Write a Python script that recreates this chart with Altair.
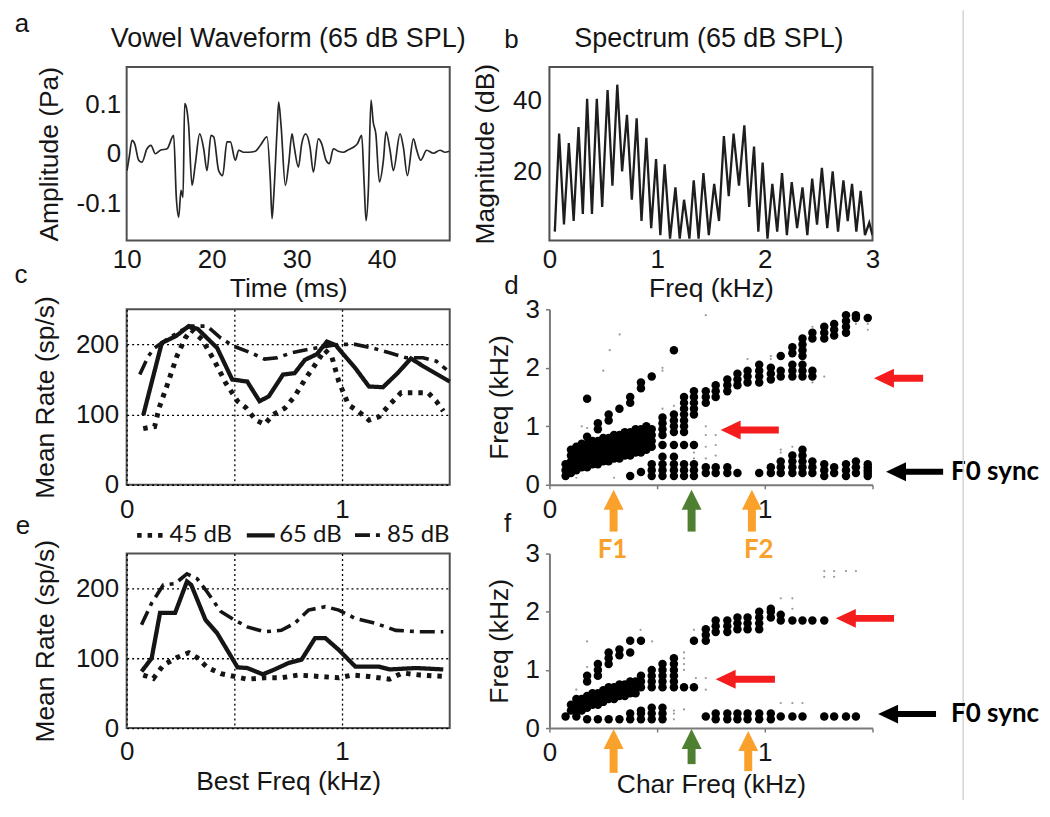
import altair as alt
import pandas as pd

FONT = "Liberation Sans"
AFONT = "Lato"
TXT = "#151515"
FRAME = "#505050"
AXGREY = "#7a7a7a"
ORANGE = "#F9A12B"
GREEN = "#4F7F30"
RED = "#F41C1C"

W = 324

# ---------------- panel a: vowel waveform ----------------
wave_t = [10.04, 10.3, 10.63, 10.95, 11.41, 11.8, 12.39, 12.86, 13.37, 13.96, 14.75, 15.53,
          15.84, 16.12, 16.39, 16.63, 16.82, 17.02, 17.29, 17.69, 18.08, 18.59, 19.06, 19.45,
          19.92, 20.24, 20.82, 21.29, 21.8, 22.2, 22.78, 23.18, 23.76, 24.35, 25.14, 25.73,
          26.51, 26.9, 27.1, 27.29, 27.69, 27.88, 28.16, 28.67, 29.06, 29.45, 29.68, 30.2,
          30.59, 31.06, 31.57, 31.96, 32.55, 32.94, 33.45, 33.84, 34.31, 34.9, 35.49, 36.08,
          36.67, 37.14, 37.65, 37.92, 38.16, 38.43, 38.74, 39.0, 39.31, 39.73, 40.2, 40.51,
          40.98, 41.37, 42.16, 42.55, 43.02, 43.73, 44.12, 44.59, 45.29, 46.08, 46.86, 47.45,
          47.96]
wave_amp = [-0.034, -0.007, 0.027, 0.02, -0.013, -0.017, 0.01, 0.017, 0.0, 0.007, 0.01, 0.037,
            -0.088, -0.128, -0.074, -0.088, 0.101, 0.094, 0.057, -0.064, -0.02, 0.04, 0.01, -0.034,
            0.037, 0.034, -0.034, -0.044, 0.024, 0.024, -0.013, 0.007, 0.003, 0.003, 0.005, 0.017,
            0.034, -0.054, -0.131, -0.088, 0.047, 0.104, 0.057, -0.064, -0.02, 0.04, 0.017, -0.027,
            0.02, 0.04, 0.013, -0.037, 0.03, 0.02, -0.013, -0.02, 0.01, 0.005, 0.003, 0.008,
            0.013, 0.02, 0.037, -0.054, -0.135, -0.074, 0.108, 0.064, 0.04, -0.057, -0.013, 0.044,
            0.007, -0.034, 0.04, 0.013, -0.044, 0.03, 0.007, -0.013, 0.007, 0.001, 0.007, 0.003,
            0.005]

# ---------------- panel b: spectrum ----------------
spec_f = [0.05, 0.09, 0.135, 0.18, 0.225, 0.27, 0.31, 0.35, 0.395, 0.44, 0.49, 0.54, 0.585,
          0.63, 0.675, 0.72, 0.765, 0.81, 0.855, 0.90, 0.945, 0.99, 1.03, 1.07, 1.12, 1.17,
          1.21, 1.25, 1.30, 1.34, 1.385, 1.43, 1.48, 1.53, 1.575, 1.62, 1.665, 1.71, 1.76,
          1.81, 1.855, 1.90, 1.94, 1.98, 2.025, 2.07, 2.115, 2.16, 2.205, 2.25, 2.30, 2.35,
          2.395, 2.44, 2.485, 2.53, 2.58, 2.63, 2.68, 2.73, 2.77, 2.81, 2.85, 2.89, 2.93,
          2.97, 3.0]
spec_db = [3, 30.7, 5, 28, 6, 32.5, 8, 40.5, 8, 40.5, 10, 43, 16,
           44.5, 20, 36, 12, 35, 6, 29.5, 4, 23.5, 2, 22, 1, 15.5,
           1, 12, 1, 17.5, 1, 19.5, 2, 16.5, 6, 30, 13, 30.7, 16,
           33, 10, 27, 3, 22.5, 1, 16.5, 3, 19.5, 2, 17, 4, 15.5,
           2, 18, 5, 21, 4, 20, 3, 17.5, 6, 16.5, 3, 14.5, 2,
           5.5, 2]

# ---------------- panels c / e: mean rate ----------------
LEVELS = ["45 dB", "65 dB", "85 dB"]
c45_bf = [0.077, 0.13, 0.15, 0.186, 0.233, 0.272, 0.30, 0.35, 0.405, 0.46, 0.515, 0.553, 0.60, 0.64,
          0.68, 0.734, 0.78, 0.828, 0.875, 0.92, 0.953, 0.985, 1.03, 1.078, 1.125, 1.172, 1.22,
          1.274, 1.345, 1.40, 1.438, 1.47]
c45_rate = [80, 83, 109, 140, 183, 209, 221, 207, 178, 145, 119, 110, 92, 86, 100, 109, 126, 150,
            171, 192, 182, 147, 114, 104, 92, 97, 114, 131, 131, 131, 119, 105]
c65_bf = [0.077, 0.163, 0.23, 0.288, 0.33, 0.42, 0.49, 0.56, 0.617, 0.66, 0.726, 0.78, 0.828,
          0.883, 0.93, 0.97, 1.062, 1.125, 1.19, 1.258, 1.32, 1.376, 1.5]
c65_rate = [99, 202, 212, 226, 222, 195, 150, 147, 119, 126, 157, 159, 178, 186, 204, 199, 166,
            140, 139, 159, 180, 169, 147]
c85_bf = [0.061, 0.1, 0.13, 0.186, 0.249, 0.296, 0.374, 0.437, 0.5, 0.577, 0.64, 0.70, 0.766,
          0.844, 0.922, 0.985, 1.062, 1.14, 1.22, 1.297, 1.376, 1.438, 1.485]
c85_rate = [157, 183, 195, 207, 219, 226, 226, 209, 197, 188, 179, 181, 188, 193, 197, 200, 200,
            195, 188, 181, 181, 176, 164]

e45_bf = [0.077, 0.124, 0.17, 0.233, 0.288, 0.327, 0.374, 0.437, 0.5, 0.56, 0.64, 0.718, 0.797,
          0.89, 0.985, 1.047, 1.125, 1.22, 1.28, 1.36, 1.47]
e45_rate = [76, 71, 90, 101, 108, 101, 87, 78, 74, 70, 72, 72, 76, 74, 72, 76, 74, 70, 79, 76, 74]
e65_bf = [0.069, 0.116, 0.155, 0.225, 0.28, 0.30, 0.366, 0.42, 0.515, 0.56, 0.632, 0.687, 0.75,
          0.812, 0.875, 0.922, 0.985, 1.062, 1.172, 1.22, 1.345, 1.47]
e65_rate = [81, 100, 165, 165, 210, 205, 155, 136, 87, 86, 77, 84, 93, 98, 129, 129, 112, 88, 88,
            84, 86, 84]
e85_bf = [0.069, 0.116, 0.17, 0.225, 0.28, 0.327, 0.374, 0.437, 0.5, 0.56, 0.64, 0.718, 0.78,
          0.844, 0.922, 0.985, 1.062, 1.156, 1.25, 1.36, 1.47]
e85_rate = [148, 179, 205, 207, 221, 214, 195, 167, 155, 145, 138, 140, 150, 169, 174, 169, 157,
            150, 140, 138, 138]

# ---------------- panels d / f: synchronized frequency vs CF ----------------
D_BIG = [
    (0.075, [0.15, 0.25, 0.35]),
    (0.100, [0.2, 0.3, 0.4, 0.5, 0.6]),
    (0.125, [0.25, 0.35, 0.45, 0.55, 0.65]),
    (0.150, [0.3, 0.4, 0.5, 0.6, 0.7]),
    (0.175, [0.3, 0.4, 0.5, 0.6, 0.7, 0.82, 1.47]),
    (0.200, [0.35, 0.45, 0.55, 0.65, 0.75]),
    (0.225, [0.35, 0.45, 0.55, 0.65, 0.75, 0.95, 1.05]),
    (0.250, [0.4, 0.5, 0.6, 0.7, 0.8]),
    (0.275, [0.4, 0.5, 0.6, 0.7, 0.8, 1.1, 1.2]),
    (0.300, [0.45, 0.55, 0.65, 0.75, 0.85]),
    (0.325, [0.45, 0.55, 0.65, 0.75, 0.85, 1.3]),
    (0.350, [0.5, 0.6, 0.7, 0.8, 0.9]),
    (0.375, [0.5, 0.6, 0.7, 0.8, 0.9, 1.4, 1.5, 0.15]),
    (0.400, [0.55, 0.65, 0.75, 0.85, 0.95]),
    (0.425, [0.55, 0.65, 0.75, 0.85, 0.95, 1.65, 1.75, 0.22]),
    (0.450, [0.6, 0.7, 0.8, 0.9, 1.0]),
    (0.475, [0.65, 0.75, 0.85, 0.95, 1.85, 0.15, 0.25, 0.35]),
    (0.525, [0.85, 0.95, 1.05, 1.15, 0.68, 0.48, 0.15, 0.25, 0.35]),
    (0.578, [0.9, 1.0, 1.1, 1.2, 0.68, 0.48, 0.15, 0.25, 0.35, 2.3]),
    (0.625, [0.9, 1.0, 1.1, 1.2, 1.3, 1.4, 1.5, 0.68, 0.15, 0.25, 0.35]),
    (0.671, [1.2, 1.3, 1.4, 1.5, 1.6, 0.68, 0.15, 0.25, 0.35]),
    (0.726, [1.4, 1.5, 1.6, 0.2, 0.3]),
    (0.772, [1.5, 1.6, 1.7, 0.2, 0.3]),
    (0.826, [1.6, 1.7, 1.8, 0.2, 0.3]),
    (0.873, [1.7, 1.8, 1.9, 0.2]),
    (0.920, [1.75, 1.85, 1.95]),
    (0.974, [1.75, 1.85, 1.95, 2.05, 0.2]),
    (1.028, [1.8, 1.9, 2.0, 0.2, 0.3]),
    (1.074, [1.85, 1.95, 2.2, 0.2, 0.3, 0.4]),
    (1.128, [1.85, 1.95, 2.05, 2.25, 2.35, 0.2, 0.3, 0.4, 0.5]),
    (1.175, [1.85, 1.95, 2.05, 2.2, 2.3, 2.4, 2.5, 0.2, 0.3, 0.4, 0.5, 0.6]),
    (1.221, [1.85, 1.95, 2.5, 2.6, 0.2, 0.3, 0.4]),
    (1.276, [2.5, 2.6, 2.7, 0.15, 0.25, 0.35]),
    (1.322, [2.55, 2.65, 2.75, 0.2, 0.3]),
    (1.377, [2.6, 2.7, 2.8, 2.9, 0.15, 0.25, 0.35]),
    (1.423, [2.85, 2.9, 0.2, 0.3, 0.4]),
    (1.478, [2.85, 0.15, 0.2, 0.25, 0.3, 0.35]),
]
D_SMALL = [
    (0.150, [1.0]), (0.175, [0.97]), (0.250, [1.95]), (0.280, [2.3]), (0.326, [2.57]),
    (0.125, [0.12]), (0.300, [0.12]), (0.525, [2.0, 1.95, 1.3]), (0.578, [1.35]),
    (0.671, [0.55, 0.45]), (0.726, [2.9, 1.0, 0.85, 0.65, 0.45]), (0.772, [0.85, 0.68, 0.5]),
    (0.920, [2.15]), (1.028, [2.15, 2.2]), (1.074, [0.55, 0.6]), (1.128, [0.65]),
    (1.221, [1.75, 2.7]), (1.276, [1.85]), (1.423, [2.75]), (1.478, [2.75, 2.65]),
]

F_BIG = [
    (0.075, [0.2]),
    (0.100, [0.3, 0.4]),
    (0.125, [0.2, 0.3, 0.4, 0.5]),
    (0.150, [0.3, 0.4, 0.5]),
    (0.175, [0.35, 0.45, 0.55, 0.8, 0.9, 0.15]),
    (0.200, [0.4, 0.5, 0.6]),
    (0.225, [0.4, 0.5, 0.6, 0.9, 1.0, 1.1, 0.15]),
    (0.250, [0.45, 0.55, 0.65]),
    (0.275, [0.5, 0.6, 0.7, 1.1, 1.2, 1.3, 0.15]),
    (0.300, [0.5, 0.6, 0.7]),
    (0.325, [0.55, 0.65, 0.75, 1.25, 1.35, 0.15]),
    (0.350, [0.55, 0.65, 0.75]),
    (0.375, [0.6, 0.7, 0.8, 1.5, 1.3, 0.15, 0.25]),
    (0.400, [0.6, 0.7, 0.8]),
    (0.425, [0.7, 0.8, 0.9, 1.5, 0.15, 0.25, 0.3]),
    (0.475, [0.7, 0.8, 0.9, 1.0, 0.15, 0.25, 0.35]),
    (0.525, [0.7, 0.8, 0.9, 1.0, 1.1, 0.15, 0.25, 0.35]),
    (0.578, [0.7, 0.8, 0.9, 1.0, 1.1, 1.2]),
    (0.625, [0.7]),
    (0.671, [0.7, 1.5]),
    (0.726, [1.5, 1.6, 1.7, 0.2]),
    (0.772, [1.65, 1.75, 1.85, 0.15, 0.25]),
    (0.826, [1.65, 1.75, 1.85, 0.15, 0.25]),
    (0.873, [1.7, 1.8, 1.9, 0.15, 0.25]),
    (0.920, [1.7, 1.8, 1.9, 0.15, 0.25]),
    (0.974, [1.7, 1.8, 1.9, 2.0, 0.15, 0.25]),
    (1.028, [1.9, 2.0, 2.05, 0.15, 0.25]),
    (1.074, [1.85, 1.95, 0.2]),
    (1.128, [1.85, 0.2]),
    (1.175, [1.85, 0.2]),
    (1.221, [1.85]),
    (1.276, [1.85, 0.2]),
    (1.322, [0.2]),
    (1.377, [0.2]),
    (1.423, [0.2]),
]
F_SMALL = [
    (0.125, [0.66]), (0.175, [1.49, 1.05]), (0.423, [1.69]), (0.477, [1.49]),
    (0.578, [0.15, 0.25, 0.3]), (0.625, [1.0, 1.1, 1.2, 1.3, 0.32]), (0.671, [1.69]),
    (0.68, [0.86]), (0.726, [0.86, 0.66]), (1.074, [2.23, 0.43]), (1.128, [2.23, 2.05, 0.43]),
    (1.175, [0.43]), (1.276, [2.6, 2.7]), (1.322, [2.6, 2.7]), (1.377, [2.7]), (1.423, [2.7]),
]

# annotation arrows (data units of panels d / f)
D_H_Y, D_H_TIP, D_H_TAIL = [1.82, 0.937, 0.221], [1.507, 0.795, 1.563], [1.735, 1.065, 1.828]
D_V_X, D_V_TIP, D_V_TAIL = [0.298, 0.66, 0.94], [-0.085, -0.085, -0.085], [-0.80, -0.80, -0.80]
F_H_Y, F_H_TIP, F_H_TAIL = [1.886, 0.84, 0.24], [1.33, 0.772, 1.526], [1.6, 1.047, 1.795]
F_V_X, F_V_TIP, F_V_TAIL = [0.298, 0.66, 0.923], [-0.017, -0.017, -0.05], [-0.77, -0.62, -0.74]
H_KIND = ["harmonic", "harmonic", "f0"]
V_KIND = ["formant", "valley", "formant"]
FORMANT_LABELS = ["F1", "F2"]
F_LABEL_X = [0.293, 0.972]
F_LABEL_Y = [-1.107, -1.107]
SYNC_LABEL = "F0 sync"
SYNC_X = 1.865
PANEL_LABELS = ["a", "b", "c", "d", "e", "f"]
PANEL_TITLES = ["Vowel Waveform (65 dB SPL)", "Spectrum (65 dB SPL)"]

LEFT_HEAD = "M0,0L2,-0.95L2,0.95Z"
UP_HEAD = "M0,0L-1,2L1,2Z"


def text_layer(s, x, y, size=26, weight="normal", font=FONT, color=TXT, align="center",
               baseline="alphabetic"):
    return alt.Chart(pd.DataFrame({"s": [s]})).mark_text(
        font=font, fontSize=size, fontWeight=weight, color=color, align=align, baseline=baseline
    ).encode(text="s:N", x=alt.value(x), y=alt.value(y))


def framed(ch, h):
    return ch.properties(width=W, height=h, view=alt.ViewBackground(stroke=FRAME, strokeWidth=2))


# ---------------- build panel a ----------------
HA = 174
a_line = alt.Chart(pd.DataFrame({"t": wave_t, "amp": wave_amp})).mark_line(
    color="#262626", strokeWidth=1.7, clip=True, interpolate="monotone"
).encode(
    x=alt.X("t:Q", scale=alt.Scale(domain=[10, 48], nice=False, zero=False),
            axis=alt.Axis(values=[10, 20, 30, 40], title="Time (ms)", labelPadding=6, titleY=35)),
    y=alt.Y("amp:Q", scale=alt.Scale(domain=[-0.175, 0.175], nice=False),
            axis=alt.Axis(values=[-0.1, 0, 0.1], title="Amplitude (Pa)", labelPadding=6,
                          titleX=-63, titleY=HA / 2,
                          labelExpr="datum.value > 0.05 ? '0.1' : (datum.value < -0.05 ? '-0.1' : '0')")),
)
panel_a = framed(alt.layer(a_line, text_layer(PANEL_LABELS[0], -105, -35),
                           text_layer(PANEL_TITLES[0], 162, -20, size=27)), HA)

# ---------------- panel b ----------------
b_line = alt.Chart(pd.DataFrame({"f": spec_f, "db": spec_db})).mark_line(
    color="#1e1e1e", strokeWidth=2.3, clip=True
).encode(
    x=alt.X("f:Q", scale=alt.Scale(domain=[0, 3], nice=False),
            axis=alt.Axis(values=[0, 1, 2, 3], title="Freq (kHz)", labelPadding=6, titleY=35)),
    y=alt.Y("db:Q", scale=alt.Scale(domain=[0.5, 49.5], nice=False, zero=False),
            axis=alt.Axis(values=[20, 40], title="Magnitude (dB)", labelPadding=8,
                          titleX=-50, titleY=HA / 2)),
)
panel_b = framed(alt.layer(b_line, text_layer(PANEL_LABELS[1], -38, -19),
                           text_layer(PANEL_TITLES[1], 160, -20, size=27)), HA)

# ---------------- panels c / e ----------------
DASHES = [[4.5, 6], [1, 0], [15, 6, 4, 6]]


def rate_df(series):
    rows = []
    for lev, xs, ys in series:
        assert len(xs) == len(ys)
        for x, y in zip(xs, ys):
            rows.append({"bf": x, "rate": y, "level": lev})
    return pd.DataFrame(rows)


def rate_panel(df, h, xtitle, xtitle_y, xlabpad, legend, label, lx, ly):
    lines = alt.Chart(df).mark_line(color=TXT).encode(
        x=alt.X("bf:Q", scale=alt.Scale(domain=[0, 1.5], nice=False),
                axis=alt.Axis(values=[0, 0.5, 1], grid=True, gridDash=[2, 3], gridColor="#000",
                              gridWidth=1.3, title=xtitle, titleY=xtitle_y, labelPadding=xlabpad,
                              labelExpr="datum.value == 0 ? '0' : (datum.value == 1 ? '1' : '')")),
        y=alt.Y("rate:Q", scale=alt.Scale(domain=[0, 250], nice=False),
                axis=alt.Axis(values=[0, 100, 200], grid=True, gridDash=[2, 3], gridColor="#000",
                              gridWidth=1.3, title="Mean Rate (sp/s)", titleX=-67, titleY=h / 2,
                              labelPadding=8)),
        strokeDash=alt.StrokeDash("level:N", scale=alt.Scale(domain=LEVELS, range=DASHES),
                                  legend=legend),
        strokeWidth=alt.StrokeWidth("level:N", scale=alt.Scale(domain=LEVELS, range=[5, 3.6, 5]),
                                    legend=None),
    )
    return framed(alt.layer(lines, text_layer(label, lx, ly)), h)


HC, HE = 176, 175
c_df = rate_df([(LEVELS[0], c45_bf, c45_rate), (LEVELS[1], c65_bf, c65_rate),
                (LEVELS[2], c85_bf, c85_rate)])
e_df = rate_df([(LEVELS[0], e45_bf, e45_rate), (LEVELS[1], e65_bf, e65_rate),
                (LEVELS[2], e85_bf, e85_rate)])
legend_e = alt.Legend(orient="none", legendX=8, legendY=-35, direction="horizontal", title=None,
                      symbolType="stroke", symbolStrokeWidth=4.5, symbolSize=784,
                      symbolStrokeColor=TXT, labelFont=AFONT, labelFontSize=24, labelColor=TXT,
                      labelOffset=2, columnPadding=5, padding=0)
panel_c = rate_panel(c_df, HC, None, 30, 12, None, PANEL_LABELS[2], -106, -26)
panel_e = rate_panel(e_df, HE, "Best Freq (kHz)", 41, 11, legend_e, PANEL_LABELS[4], -104, -20)

# ---------------- panels d / f ----------------
XS = alt.Scale(domain=[0, 1.5], nice=False, zero=False)
YS = alt.Scale(domain=[0, 3], nice=False, zero=False)


def dots_df(big, small):
    rows = []
    for cf, fr in small:
        for v in fr:
            rows.append({"cf": cf, "freq": v, "w": "small"})
    for cf, fr in big:
        for v in fr:
            rows.append({"cf": cf, "freq": v, "w": "big"})
    return pd.DataFrame(rows)


def sync_panel(big, small, h, hy, htip, htail, vx, vtip, vtail, xtitle, show_formants, label, lx, ly):
    df = dots_df(big, small)
    x_axis = alt.Axis(values=[0, 0.5, 1, 1.5], title=xtitle, titleY=44, domain=True,
                      domainColor=AXGREY, domainWidth=2, ticks=True, tickSize=4, tickColor=AXGREY,
                      tickWidth=1.5, labelPadding=8,
                      labelExpr="datum.value == 0 ? '0' : (datum.value == 1 ? '1' : '')")
    y_axis = alt.Axis(values=[0, 1, 2, 3], title="Freq (kHz)", titleX=-36, titleY=h / 2,
                      domain=True, domainColor=AXGREY, domainWidth=2, ticks=True, tickSize=4,
                      tickColor=AXGREY, tickWidth=1.5, labelPadding=6)

    def X(field):
        return alt.X(field, type="quantitative", scale=XS, axis=x_axis)

    def Y(field):
        return alt.Y(field, type="quantitative", scale=YS, axis=y_axis)

    smalls = alt.Chart(df).transform_filter("datum.w == 'small'").mark_circle(
        color="#9a9a9a", size=5, opacity=1).encode(x=X("cf"), y=Y("freq"))
    bigs = alt.Chart(df).transform_filter("datum.w == 'big'").mark_circle(
        color="#000", size=72, opacity=1).encode(x=X("cf"), y=Y("freq"))

    hdf = pd.DataFrame({"y": hy, "tip": htip, "tail": htail, "kind": H_KIND})
    hdf["neck"] = hdf["tip"] + 0.06
    vdf = pd.DataFrame({"x": vx, "tip": vtip, "tail": vtail, "kind": V_KIND})
    vdf["neck"] = vdf["tip"] - 0.25

    layers = [smalls, bigs]
    for kind, col, sw in [("harmonic", RED, 7), ("f0", "#000", 6)]:
        sub = hdf[hdf.kind == kind]
        layers.append(alt.Chart(sub).mark_rule(color=col, strokeWidth=sw).encode(
            x=X("tail"), x2="neck:Q", y=Y("y")))
        layers.append(alt.Chart(sub).mark_point(shape=LEFT_HEAD, size=400, filled=True,
                                                color=col, opacity=1, strokeWidth=0).encode(
            x=X("tip"), y=Y("y")))
    for kind, col in [("formant", ORANGE), ("valley", GREEN)]:
        sub = vdf[vdf.kind == kind]
        layers.append(alt.Chart(sub).mark_rule(color=col, strokeWidth=8).encode(
            x=X("x"), y=Y("tail"), y2="neck:Q"))
        layers.append(alt.Chart(sub).mark_point(shape=UP_HEAD, size=400, filled=True,
                                                color=col, opacity=1, strokeWidth=0).encode(
            x=X("x"), y=Y("tip")))
    layers.append(alt.Chart(pd.DataFrame({"s": [SYNC_LABEL], "x": [SYNC_X], "y": [hy[2]]})).mark_text(
        font=AFONT, fontSize=26, fontWeight="bold", color="#000", align="left", baseline="middle"
    ).encode(text="s:N", x=X("x"), y=Y("y")))
    if show_formants:
        layers.append(alt.Chart(pd.DataFrame({"s": FORMANT_LABELS, "x": F_LABEL_X, "y": F_LABEL_Y})).mark_text(
            font=AFONT, fontSize=26, fontWeight="bold", color=ORANGE, align="center", baseline="middle"
        ).encode(text="s:N", x=X("x"), y=Y("y")))
        # faint page divider on the right of the figure
        layers.append(alt.Chart(pd.DataFrame({"x": [1.921], "y": [8.11], "y2": [-5.39]})).mark_rule(
            color="#d4d4d4", strokeWidth=1.5).encode(x=X("x"), y=Y("y"), y2="y2:Q"))
    layers.append(text_layer(label, lx, ly))
    return alt.layer(*layers).properties(width=W, height=h)


panel_d = sync_panel(D_BIG, D_SMALL, HC, D_H_Y, D_H_TIP, D_H_TAIL, D_V_X, D_V_TIP, D_V_TAIL,
                     None, True, PANEL_LABELS[3], -38, -15)
panel_f = sync_panel(F_BIG, F_SMALL, HE, F_H_Y, F_H_TIP, F_H_TAIL, F_V_X, F_V_TIP, F_V_TAIL,
                     "Char Freq (kHz)", False, PANEL_LABELS[5], -42, -22)

chart = alt.concat(
    panel_a, panel_b, panel_c, panel_d, panel_e, panel_f,
    columns=2, spacing={"row": 69, "column": 100}, bounds="flush"
).resolve_scale(
    strokeDash="independent", strokeWidth="independent"
).resolve_legend(
    strokeDash="independent"
).properties(
    padding={"left": 5, "top": 0, "right": 2, "bottom": 2}
).configure_view(
    stroke=None
).configure_axis(
    labelFont=FONT, labelFontSize=26, labelColor=TXT, titleFont=FONT, titleFontSize=26.5,
    titleFontWeight="normal", titleColor=TXT, ticks=False, tickSize=0, domain=False, grid=False,
    labelFlush=False, labelOverlap=False
)

chart.save("out.html", embed_options={"renderer": "svg", "actions": False})
